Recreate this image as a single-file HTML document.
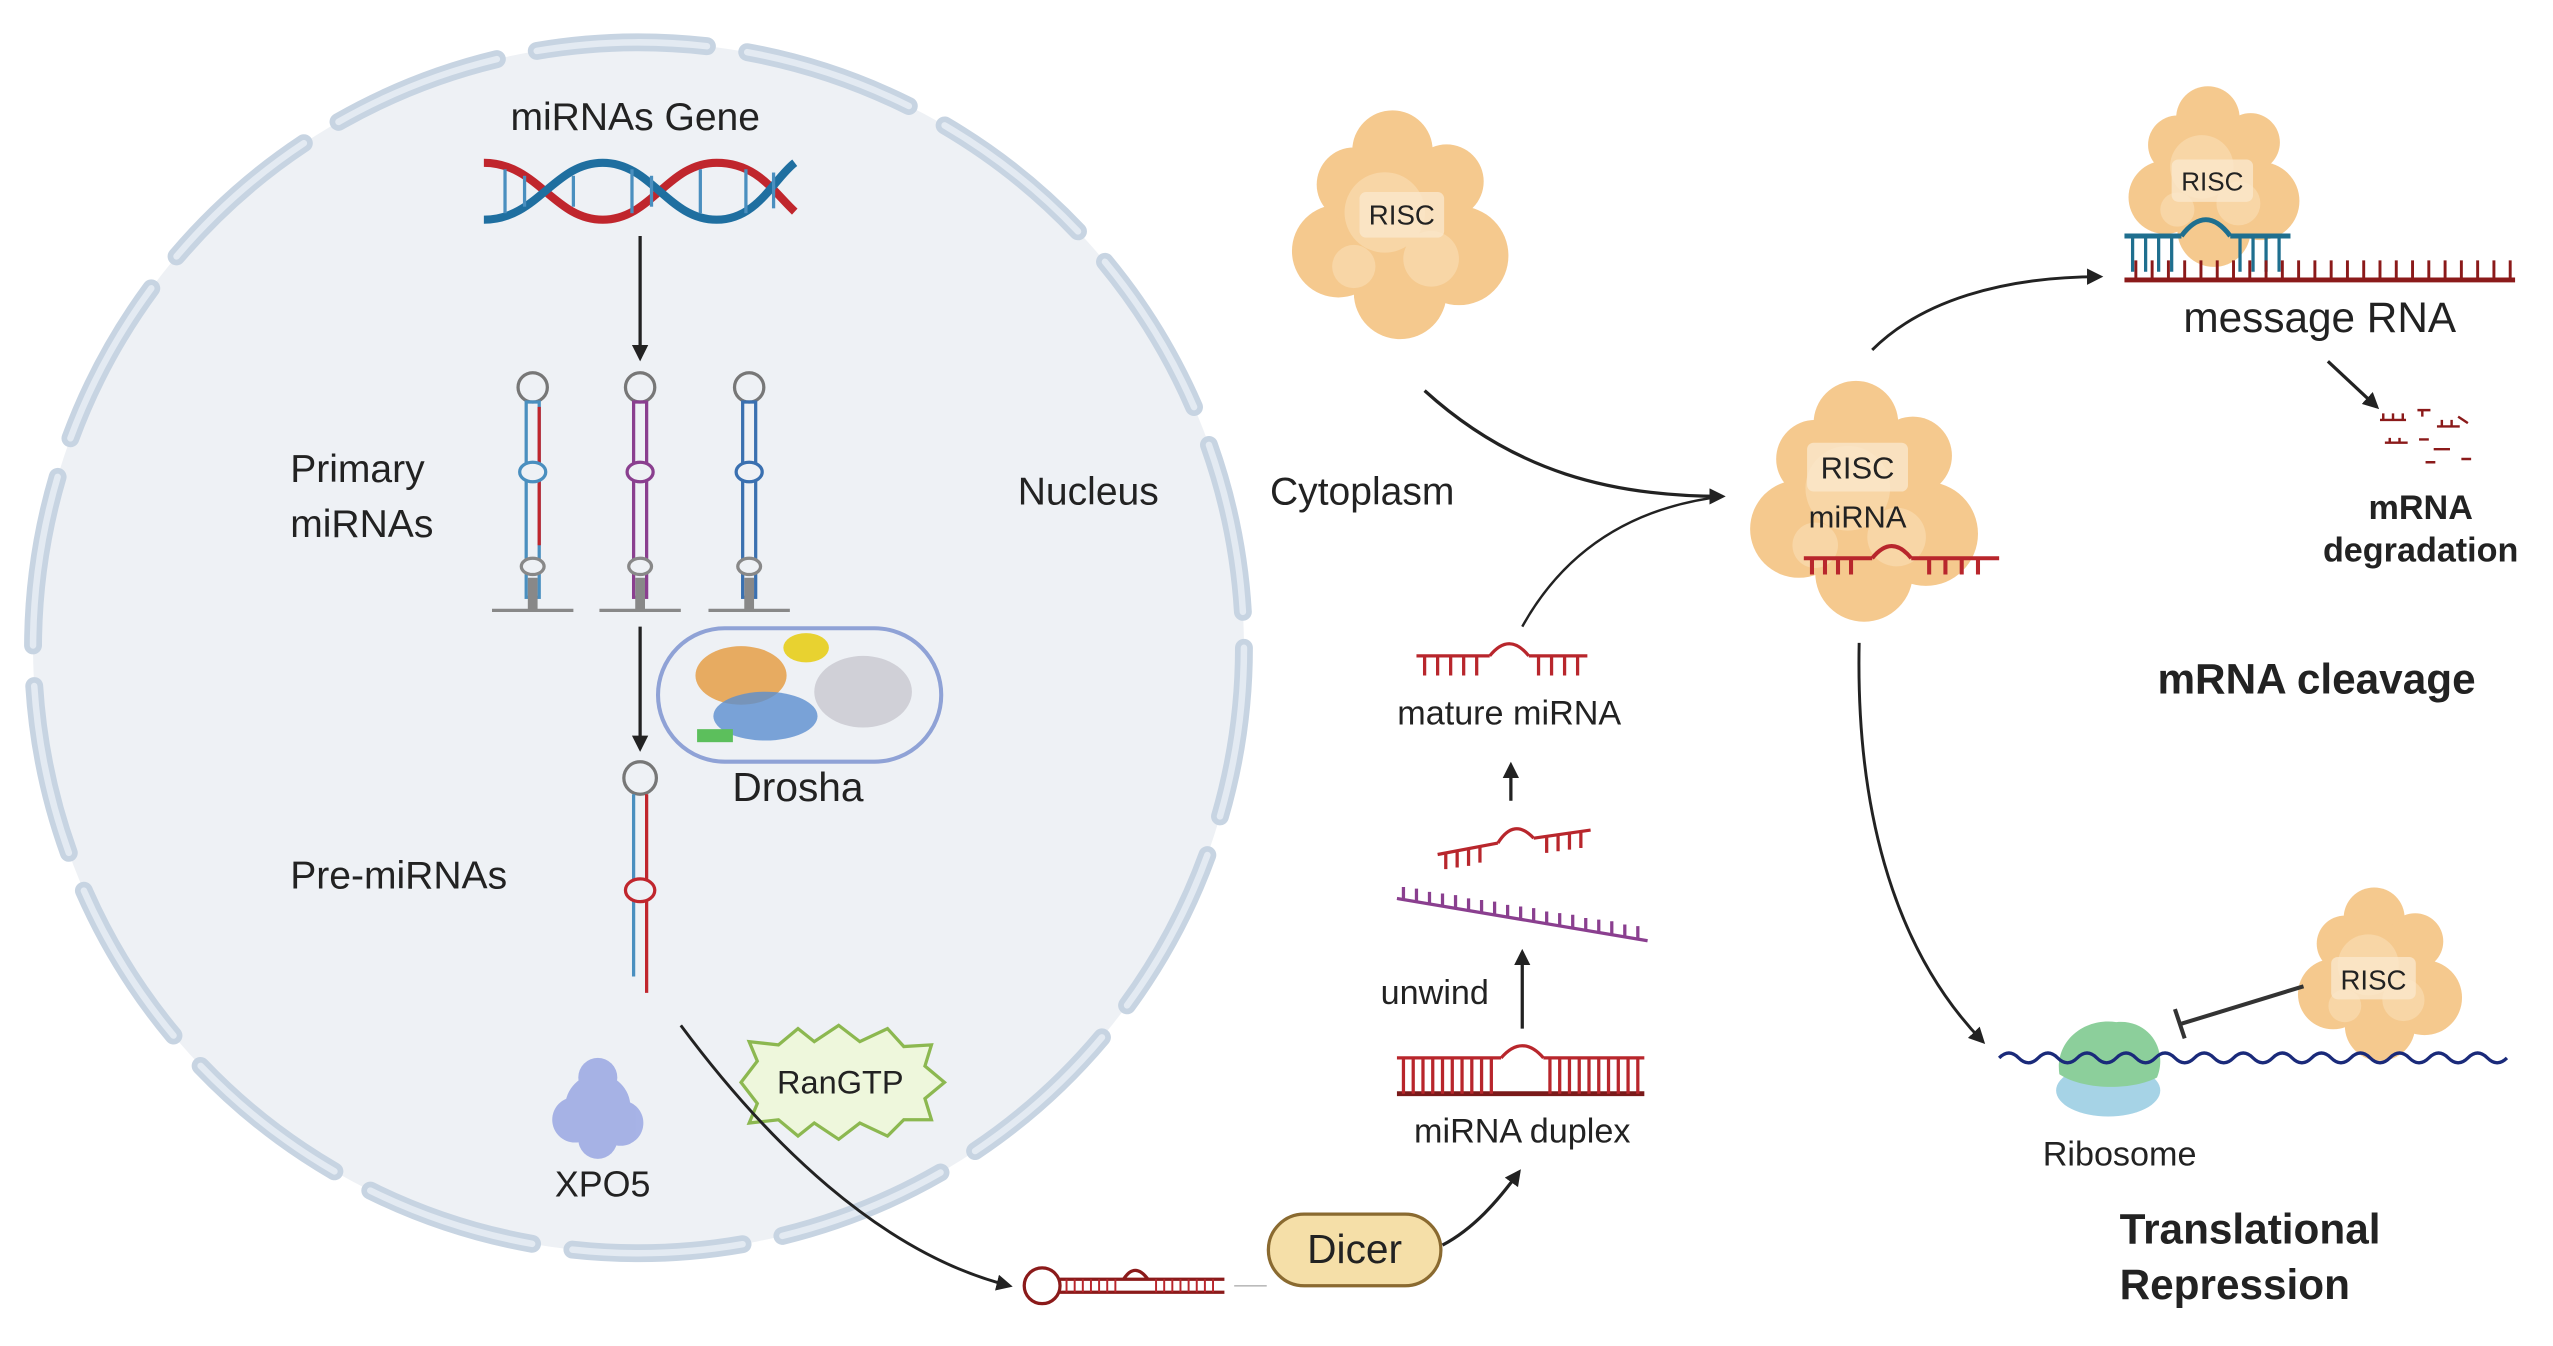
<!DOCTYPE html>
<html><head><meta charset="utf-8"><style>
html,body{margin:0;padding:0;background:#fff;}
svg{display:block;}
text{font-family:"Liberation Sans",sans-serif;fill:#222;}
</style></head><body>
<svg width="2553" height="1346" viewBox="0 0 1568 827" xmlns="http://www.w3.org/2000/svg">
<defs>
<marker id="ah" markerWidth="10" markerHeight="10" refX="8" refY="5" orient="auto" markerUnits="userSpaceOnUse"><path d="M0,0 L10,5 L0,10 Z" fill="#222"/></marker>
<g id="blob">
<circle cx="0" cy="0" r="48" fill="#f5c98e"/>
<circle cx="-40" cy="15" r="30" fill="#f5c98e"/>
<circle cx="38" cy="18" r="32" fill="#f5c98e"/>
<circle cx="-5" cy="-50" r="26" fill="#f5c98e"/>
<circle cx="30" cy="-30" r="24" fill="#f5c98e"/>
<circle cx="-30" cy="-28" r="24" fill="#f5c98e"/>
<circle cx="0" cy="42" r="30" fill="#f5c98e"/>
<circle cx="-10" cy="-10" r="26" fill="#f8d6a6"/>
<circle cx="20" cy="20" r="18" fill="#f8d6a6"/>
<circle cx="-30" cy="25" r="14" fill="#f8d6a6"/>
</g>
</defs>
<!-- nucleus -->
<circle cx="392" cy="398" r="372" fill="#eef1f5"/>
<circle cx="392" cy="398" r="372" fill="none" stroke="#c7d4e2" stroke-width="11" stroke-linecap="round" stroke-dasharray="105 25"/>
<circle cx="392" cy="398" r="372" fill="none" stroke="#e3eaf2" stroke-width="4" stroke-linecap="round" stroke-dasharray="105 25"/>
<text x="390" y="80" font-size="24" text-anchor="middle">miRNAs Gene</text>
<!-- DNA -->
<g stroke-width="5" fill="none">
<path d="M297,100 C330,100 340,135 370,135 C400,135 410,100 440,100 C465,100 475,118 488,130" stroke="#c0262d"/>
<path d="M297,135 C330,135 340,100 370,100 C400,100 410,135 440,135 C465,135 475,110 488,100" stroke="#1f6fa0"/>
</g>
<g stroke="#4a8fbf" stroke-width="2"><line x1="310" y1="104" x2="310" y2="131"/><line x1="322" y1="108" x2="322" y2="127"/><line x1="352" y1="108" x2="352" y2="127"/><line x1="388" y1="104" x2="388" y2="131"/><line x1="400" y1="108" x2="400" y2="127"/><line x1="430" y1="104" x2="430" y2="131"/><line x1="458" y1="104" x2="458" y2="131"/><line x1="475" y1="106" x2="475" y2="128"/></g>
<line x1="393" y1="145" x2="393" y2="220" stroke="#222" stroke-width="2" marker-end="url(#ah)"/>
<!-- primary hairpins -->
<g fill="none" stroke-width="2">
<g transform="translate(327,0)"><circle cx="0" cy="238" r="9" stroke="#777"/><rect x="-4" y="247" width="8" height="120" stroke="#4a8fbf"/><line x1="4" y1="250" x2="4" y2="335" stroke="#c0262d"/><ellipse cx="0" cy="290" rx="8" ry="6" stroke="#4a8fbf" fill="#eef1f5"/><ellipse cx="0" cy="348" rx="7" ry="5" stroke="#888" fill="#eef1f5"/><line x1="-25" y1="375" x2="25" y2="375" stroke="#888"/><line x1="0" y1="355" x2="0" y2="375" stroke="#888" stroke-width="6"/></g>
<g transform="translate(393,0)"><circle cx="0" cy="238" r="9" stroke="#777"/><rect x="-4" y="247" width="8" height="120" stroke="#8a3f8f"/><ellipse cx="0" cy="290" rx="8" ry="6" stroke="#8a3f8f" fill="#eef1f5"/><ellipse cx="0" cy="348" rx="7" ry="5" stroke="#888" fill="#eef1f5"/><line x1="-25" y1="375" x2="25" y2="375" stroke="#888"/><line x1="0" y1="355" x2="0" y2="375" stroke="#888" stroke-width="6"/></g>
<g transform="translate(460,0)"><circle cx="0" cy="238" r="9" stroke="#777"/><rect x="-4" y="247" width="8" height="120" stroke="#3a70b0"/><ellipse cx="0" cy="290" rx="8" ry="6" stroke="#3a70b0" fill="#eef1f5"/><ellipse cx="0" cy="348" rx="7" ry="5" stroke="#888" fill="#eef1f5"/><line x1="-25" y1="375" x2="25" y2="375" stroke="#888"/><line x1="0" y1="355" x2="0" y2="375" stroke="#888" stroke-width="6"/></g>
</g>
<text x="178" y="296" font-size="24">Primary</text>
<text x="178" y="330" font-size="24">miRNAs</text>
<text x="625" y="310" font-size="24">Nucleus</text>
<text x="780" y="310" font-size="24">Cytoplasm</text>
<line x1="393" y1="385" x2="393" y2="460" stroke="#222" stroke-width="2" marker-end="url(#ah)"/>
<!-- Drosha -->
<rect x="404" y="386" width="174" height="82" rx="41" fill="#eef1f5" stroke="#8fa2d6" stroke-width="2.5"/>
<ellipse cx="455" cy="415" rx="28" ry="18" fill="#e59a3c" opacity="0.8"/>
<ellipse cx="470" cy="440" rx="32" ry="15" fill="#5b8fd0" opacity="0.8"/>
<ellipse cx="530" cy="425" rx="30" ry="22" fill="#c8c8d0" opacity="0.8"/>
<ellipse cx="495" cy="398" rx="14" ry="9" fill="#e8d230"/>
<rect x="428" y="448" width="22" height="8" fill="#5cbf5c"/>
<text x="490" y="492" font-size="25" text-anchor="middle">Drosha</text>
<!-- pre-miRNA -->
<g fill="none" stroke-width="2"><circle cx="393" cy="478" r="10" stroke="#777"/><line x1="389" y1="488" x2="389" y2="600" stroke="#4a8fbf"/><line x1="397" y1="488" x2="397" y2="610" stroke="#c0262d"/><ellipse cx="393" cy="547" rx="9" ry="7" stroke="#c0262d" fill="#eef1f5"/></g>
<text x="178" y="546" font-size="24">Pre-miRNAs</text>
<!-- XPO5 -->
<g transform="translate(367,680) scale(0.4)" opacity="0.85"><circle cx="0" cy="0" r="50" fill="#9aa8e3"/><circle cx="-35" cy="20" r="35" fill="#9aa8e3"/><circle cx="35" cy="25" r="35" fill="#9aa8e3"/><circle cx="0" cy="-45" r="30" fill="#9aa8e3"/><circle cx="0" cy="50" r="30" fill="#9aa8e3"/></g>
<text x="370" y="735" font-size="22" text-anchor="middle">XPO5</text>
<!-- RanGTP -->
<polygon points="455,665 465,652 460,640 478,642 490,632 500,640 515,630 528,640 545,632 555,643 572,642 568,655 580,665 568,675 572,688 555,688 545,698 528,690 515,700 500,690 490,698 478,688 460,690 465,678" fill="#eef7dc" stroke="#8cb850" stroke-width="2"/>
<text x="516" y="672" font-size="20" text-anchor="middle">RanGTP</text>
<!-- export arrow -->
<path d="M418,630 C470,700 540,770 620,790" fill="none" stroke="#222" stroke-width="1.8" marker-end="url(#ah)"/>
<!-- horizontal hairpin -->
<circle cx="640" cy="790" r="11" fill="none" stroke="#8b1a1a" stroke-width="2"/>
<line x1="651" y1="786" x2="752" y2="786" stroke="#8b1a1a" stroke-width="2"/><line x1="651" y1="794" x2="752" y2="794" stroke="#8b1a1a" stroke-width="2"/>
<path d="M690,786 Q697,775 705,786" fill="none" stroke="#8b1a1a" stroke-width="2"/>
<g stroke="#b8262c" stroke-width="1.2"><path d="M655,786v8M660,786v8M665,786v8M670,786v8M675,786v8M680,786v8M685,786v8M710,786v8M715,786v8M720,786v8M725,786v8M730,786v8M735,786v8M740,786v8M745,786v8"/></g>
<line x1="758" y1="790" x2="778" y2="790" stroke="#bbb" stroke-width="1"/>
<!-- Dicer -->
<rect x="779" y="746" width="106" height="44" rx="22" fill="#f5dfa8" stroke="#8a6a30" stroke-width="2"/>
<text x="832" y="776" font-size="25" text-anchor="middle">Dicer</text>
<path d="M886,765 C905,755 920,738 933,720" fill="none" stroke="#222" stroke-width="2" marker-end="url(#ah)"/>
<!-- duplex -->
<g stroke="#b8262c" stroke-width="2" fill="none">
<line x1="858" y1="650" x2="922" y2="650"/><line x1="948" y1="650" x2="1010" y2="650"/><path d="M922,650 Q935,635 948,650"/>
<line x1="858" y1="672" x2="1010" y2="672" stroke="#7a1a1a" stroke-width="3"/>
<path d="M862,650v22M868,650v22M874,650v22M880,650v22M886,650v22M892,650v22M898,650v22M904,650v22M910,650v22M916,650v22M952,650v22M958,650v22M964,650v22M970,650v22M976,650v22M982,650v22M988,650v22M994,650v22M1000,650v22M1006,650v22"/>
</g>
<text x="935" y="702" font-size="21" text-anchor="middle">miRNA duplex</text>
<text x="848" y="617" font-size="21">unwind</text>
<line x1="935" y1="632" x2="935" y2="585" stroke="#222" stroke-width="2" marker-end="url(#ah)"/>
<g stroke="#8a3f8f" stroke-width="2"><line x1="858" y1="552" x2="1012" y2="578"/><path d="M862,553v-8M870,554v-8M878,556v-8M886,557v-8M894,558v-8M902,560v-8M910,561v-8M918,562v-8M926,564v-8M934,565v-8M942,566v-8M950,568v-8M958,569v-8M966,570v-8M974,572v-8M982,573v-8M990,574v-8M998,576v-8M1006,577v-8"/></g>
<g stroke="#b8262c" stroke-width="2" fill="none"><line x1="883" y1="525" x2="920" y2="518"/><path d="M920,518 Q930,502 942,515"/><line x1="942" y1="515" x2="977" y2="510"/><path d="M888,524v10M895,523v10M902,522v10M909,520v10M950,514v10M957,513v10M964,512v10M971,511v10"/></g>
<line x1="928" y1="492" x2="928" y2="470" stroke="#222" stroke-width="2" marker-end="url(#ah)"/>
<g stroke="#b8262c" stroke-width="2" fill="none"><line x1="870" y1="403" x2="915" y2="403"/><path d="M915,403 Q927,388 939,403"/><line x1="939" y1="403" x2="975" y2="403"/><path d="M875,403v12M883,403v12M891,403v12M899,403v12M907,403v12M945,403v12M953,403v12M961,403v12M969,403v12"/></g>
<text x="927" y="445" font-size="21" text-anchor="middle">mature miRNA</text>
<!-- RISC top -->
<use href="#blob" transform="translate(860,140) scale(0.95)"/>
<rect x="835" y="118" width="52" height="28" rx="4" fill="#fae7cc" opacity="0.8"/>
<text x="861" y="138" font-size="17" text-anchor="middle" fill="#555">RISC</text>
<path d="M875,240 C930,290 990,305 1058,305" fill="none" stroke="#222" stroke-width="2" marker-end="url(#ah)"/>
<path d="M935,385 C960,340 1000,312 1058,305" fill="none" stroke="#222" stroke-width="1.5"/>
<!-- RISC center -->
<use href="#blob" transform="translate(1145,310) scale(1.0)"/>
<rect x="1110" y="272" width="62" height="30" rx="4" fill="#fae7cc" opacity="0.8"/>
<text x="1141" y="294" font-size="19" text-anchor="middle" fill="#555">RISC</text>
<text x="1141" y="324" font-size="19" text-anchor="middle" fill="#444">miRNA</text>
<g stroke="#b8262c" stroke-width="2.5" fill="none"><line x1="1108" y1="343" x2="1150" y2="343"/><path d="M1150,343 Q1162,328 1174,343"/><line x1="1174" y1="343" x2="1228" y2="343"/><path d="M1113,343v10M1121,343v10M1129,343v10M1137,343v10M1185,343v10M1195,343v10M1205,343v10M1215,343v10"/></g>
<path d="M1150,215 C1180,185 1230,170 1290,170" fill="none" stroke="#222" stroke-width="1.8" marker-end="url(#ah)"/>
<!-- top right RISC -->
<use href="#blob" transform="translate(1360,110) scale(0.75)"/>
<rect x="1334" y="98" width="50" height="26" rx="4" fill="#fae7cc" opacity="0.8"/>
<text x="1359" y="117" font-size="16" text-anchor="middle" fill="#555">RISC</text>
<g stroke="#1f6f8f" stroke-width="3" fill="none"><line x1="1305" y1="145" x2="1340" y2="145"/><path d="M1340,145 Q1355,125 1370,145"/><line x1="1370" y1="145" x2="1407" y2="145"/></g>
<g stroke="#1f6f8f" stroke-width="2"><path d="M1310,145v22M1318,145v22M1326,145v22M1334,145v22M1376,145v22M1384,145v22M1392,145v22M1400,145v22"/></g>
<line x1="1305" y1="172" x2="1545" y2="172" stroke="#8b1a1a" stroke-width="3"/>
<g stroke="#8b1a1a" stroke-width="1.8"><path d="M1312,172v-12M1322,172v-12M1332,172v-12M1342,172v-12M1352,172v-12M1362,172v-12M1372,172v-12M1382,172v-12M1392,172v-12M1402,172v-12M1412,172v-12M1422,172v-12M1432,172v-12M1442,172v-12M1452,172v-12M1462,172v-12M1472,172v-12M1482,172v-12M1492,172v-12M1502,172v-12M1512,172v-12M1522,172v-12M1532,172v-12M1542,172v-12"/></g>
<text x="1425" y="204" font-size="26" text-anchor="middle">message RNA</text>
<line x1="1430" y1="222" x2="1460" y2="250" stroke="#222" stroke-width="2" marker-end="url(#ah)"/>
<g stroke="#8b1a1a" stroke-width="1.5"><path d="M1462,258h16M1464,258v-4M1470,258v-4M1476,258v-4M1485,252h8M1488,252v4M1497,262h14M1500,262v-4M1506,262v-4M1510,256l6,4M1465,272h14M1468,272v-3M1474,272v-3M1486,270h6M1495,276h10M1512,282h6M1490,284h6"/></g>
<text x="1487" y="319" font-size="21" font-weight="bold" text-anchor="middle" fill="#8b1a1a">mRNA</text>
<text x="1487" y="345" font-size="21" font-weight="bold" text-anchor="middle" fill="#8b1a1a">degradation</text>
<text x="1423" y="426" font-size="26" font-weight="bold" text-anchor="middle" fill="#111">mRNA cleavage</text>
<!-- down arrow -->
<path d="M1142,395 C1140,490 1160,580 1218,640" fill="none" stroke="#222" stroke-width="1.8" marker-end="url(#ah)"/>
<!-- translational repression -->
<use href="#blob" transform="translate(1462,600) scale(0.72)"/>
<rect x="1432" y="588" width="52" height="26" rx="4" fill="#fae7cc" opacity="0.8"/>
<text x="1458" y="608" font-size="17" text-anchor="middle" fill="#555">RISC</text>
<ellipse cx="1295" cy="670" rx="32" ry="16" fill="#a6d3e6"/>
<path d="M1265,660 C1262,640 1280,625 1300,628 C1320,626 1332,645 1325,662 C1310,670 1280,670 1265,660 Z" fill="#8ccf9b"/>
<path d="M1228,650 q6,-6 12,0 t12,0 t12,0 t12,0 t12,0 t12,0 t12,0 t12,0 t12,0 t12,0 t12,0 t12,0 t12,0 t12,0 t12,0 t12,0 t12,0 t12,0 t12,0 t12,0 t12,0 t12,0 t12,0 t12,0 t12,0 t12,0" fill="none" stroke="#1a2a7a" stroke-width="2"/>
<line x1="1415" y1="606" x2="1340" y2="629" stroke="#333" stroke-width="2.5"/>
<line x1="1336" y1="620" x2="1342" y2="638" stroke="#333" stroke-width="2.5"/>
<text x="1302" y="716" font-size="21" text-anchor="middle" fill="#333">Ribosome</text>
<text x="1302" y="764" font-size="26" font-weight="bold" fill="#111">Translational</text>
<text x="1302" y="798" font-size="26" font-weight="bold" fill="#111">Repression</text>
</svg>
</body></html>
